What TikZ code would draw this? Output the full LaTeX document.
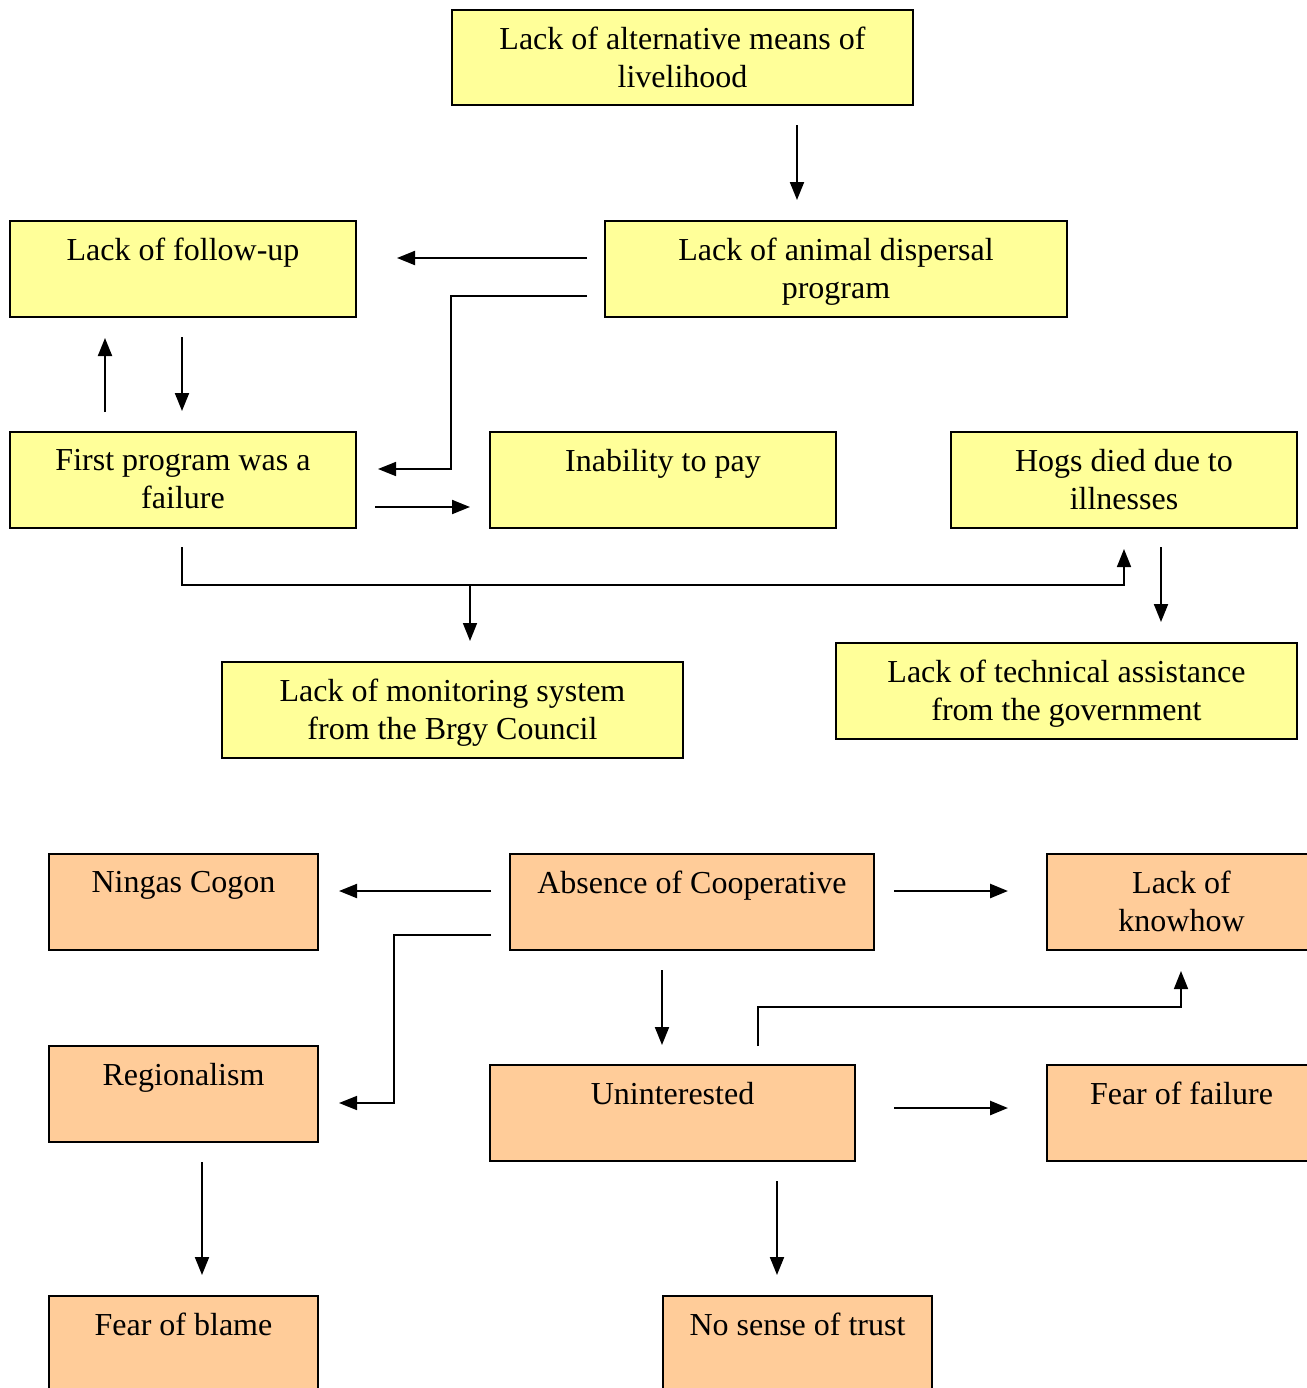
\documentclass[tikz,border=0pt]{standalone}
\usepackage{fontspec}
\setmainfont{Liberation Serif}
\usetikzlibrary{arrows.meta}

\definecolor{yfill}{HTML}{FFFF99}
\definecolor{ofill}{HTML}{FFCC99}
\newcommand\boxtext[3]{\parbox[c][#2][t]{#1}{\centering\vspace*{8.5pt}#3}}

\begin{document}
\begin{tikzpicture}[x=0.5pt,y=-0.5pt,
  ybox/.style={draw,fill=yfill,line width=1pt,inner sep=0pt,anchor=north west,font=\fontsize{16}{19}\selectfont},
  obox/.style={ybox,fill=ofill},
  arr/.style={line width=1pt,-{Triangle[length=9pt,width=7pt]}},
  elb/.style={arr,line width=0.8pt}]
 \clip (0,0) rectangle (1307,1388);
 % causes
 \node[ybox] (alt) at (451,9) {\boxtext{230.5pt}{47.5pt}{Lack of alternative means of\\livelihood}};
 \node[ybox] (disp) at (604,220) {\boxtext{231pt}{48pt}{Lack of animal dispersal\\program}};
 \node[ybox] (follow) at (9,220) {\boxtext{173pt}{48pt}{Lack of follow-up}};
 \node[ybox] (first) at (9,431) {\boxtext{173pt}{48pt}{First program was a\\failure}};
 \node[ybox] (pay) at (489,431) {\boxtext{173pt}{48pt}{Inability to pay}};
 \node[ybox] (hogs) at (950,431) {\boxtext{173pt}{48pt}{Hogs died due to\\illnesses}};
 \node[ybox] (monit) at (221,661) {\boxtext{230.5pt}{48pt}{Lack of monitoring system\\from the Brgy Council}};
 \node[ybox] (tech) at (835,642) {\boxtext{230.5pt}{48pt}{Lack of technical assistance\\from the government}};
 % cooperative
 \node[obox] (ningas) at (48,853) {\boxtext{134.5pt}{48pt}{Ningas Cogon}};
 \node[obox] (coop) at (509,853) {\boxtext{182pt}{48pt}{Absence of Cooperative}};
 \node[obox] (know) at (1046,853) {\boxtext{134.5pt}{48pt}{Lack of\\knowhow}};
 \node[obox] (region) at (48,1045) {\boxtext{134.5pt}{48pt}{Regionalism}};
 \node[obox] (unint) at (489,1064) {\boxtext{182.5pt}{48pt}{Uninterested}};
 \node[obox] (ffail) at (1046,1064) {\boxtext{134.5pt}{48pt}{Fear of failure}};
 \node[obox] (blame) at (48,1295) {\boxtext{134.5pt}{48pt}{Fear of blame}};
 \node[obox] (trust) at (662,1295) {\boxtext{134.5pt}{48pt}{No sense of trust}};

 \coordinate (c1) at (797,0);   \coordinate (c2) at (0,258);
 \coordinate (c3) at (451,296); \coordinate (c4) at (451,469);
 \coordinate (c5) at (105,0);   \coordinate (c6) at (182,0);
 \coordinate (c7) at (0,507);   \coordinate (c8) at (182,585);
 \coordinate (c9) at (1124,585); \coordinate (c10) at (470,585);
 \coordinate (c11) at (1161,0);
 \coordinate (c12) at (0,891);  \coordinate (c13) at (394,935);
 \coordinate (c14) at (394,1103); \coordinate (c15) at (662,0);
 \coordinate (c16) at (758,1007); \coordinate (c17) at (1181,1007);
 \coordinate (c18) at (0,1108); \coordinate (c19) at (202,0);
 \coordinate (c20) at (777,0);

 \draw[arr,shorten <=9.5pt,shorten >=10pt] (alt.south -| c1) -- (disp.north -| c1);
 \draw[arr,shorten <=8.5pt,shorten >=20pt] (disp.west |- c2) -- (follow.east |- c2);
 \draw[elb,shorten <=8.5pt,shorten >=10.5pt] (disp.west |- c3) -- (c3) -- (c4) -- (first.east |- c4);
 \draw[arr,shorten <=9.5pt,shorten >=10pt] (first.north -| c5) -- (follow.south -| c5);
 \draw[arr,shorten <=9.5pt,shorten >=10pt] (follow.south -| c6) -- (first.north -| c6);
 \draw[arr,shorten <=9pt,shorten >=9.5pt] (first.east |- c7) -- (pay.west |- c7);
 \draw[elb,shorten <=9pt,shorten >=10pt] (first.south -| c8) -- (c8) -- (c9) -- (hogs.south -| c9);
 \draw[elb,shorten >=10pt] (c10) -- (monit.north -| c10);
 \draw[arr,shorten <=9pt,shorten >=10pt] (hogs.south -| c11) -- (tech.north -| c11);

 \draw[arr,shorten <=9pt,shorten >=10pt] (coop.west |- c12) -- (ningas.east |- c12);
 \draw[arr,line width=1.3pt,shorten <=9.5pt,shorten >=19pt] (coop.east |- c12) -- (know.west |- c12);
 \draw[elb,shorten <=9pt,shorten >=10pt] (coop.west |- c13) -- (c13) -- (c14) -- (region.east |- c14);
 \draw[arr,shorten <=9.5pt,shorten >=9.5pt] (coop.south -| c15) -- (unint.north -| c15);
 \draw[elb,shorten <=9pt,shorten >=10pt] (unint.north -| c16) -- (c16) -- (c17) -- (know.south -| c17);
 \draw[arr,line width=1.3pt,shorten <=19pt,shorten >=19pt] (unint.east |- c18) -- (ffail.west |- c18);
 \draw[arr,shorten <=9.5pt,shorten >=10pt] (region.south -| c19) -- (blame.north -| c19);
 \draw[arr,shorten <=9.5pt,shorten >=10pt] (unint.south -| c20) -- (trust.north -| c20);
\end{tikzpicture}
\end{document}
